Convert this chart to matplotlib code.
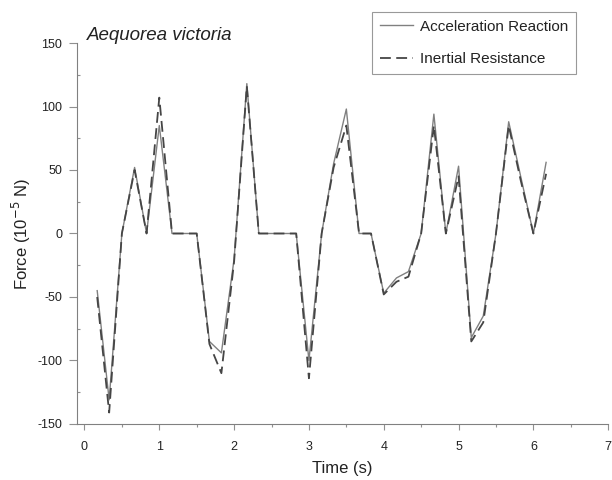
import matplotlib
matplotlib.use("Agg")
import matplotlib.pyplot as plt
from matplotlib.ticker import MultipleLocator

# valores (tiempo en s, fuerza en 1e-5 N)
time_s = [0.17, 0.33, 0.50, 0.67, 0.83, 1.00, 1.17, 1.33, 1.50, 1.67,
          1.83, 2.00, 2.17, 2.33, 2.50, 2.67, 2.83, 3.00, 3.17, 3.33,
          3.50, 3.67, 3.83, 4.00, 4.17, 4.33, 4.50, 4.67, 4.83, 5.00,
          5.17, 5.33, 5.50, 5.67, 5.83, 6.00, 6.17]

accel_reaction = [-45, -131, 0, 52, 0, 85, 0, 0, 0, -85,
                  -94, -20, 118, 0, 0, 0, 0, -100, 0, 55,
                  98, 0, 0, -47, -35, -30, 0, 94, 0, 53,
                  -82, -65, 0, 88, 45, 0, 56]

inertial_resist = [-50, -141, 0, 50, 0, 107, 0, 0, 0, -87,
                   -110, -22, 116, 0, 0, 0, 0, -114, 0, 52,
                   85, 0, 0, -48, -38, -34, 0, 85, 0, 45,
                   -85, -70, 0, 85, 42, 0, 47]

plt.rcParams["font.family"] = ["Liberation Sans", "DejaVu Sans"]
plt.rcParams["axes.unicode_minus"] = False

fig = plt.figure(figsize=(6.12, 4.8), dpi=100)
ax = fig.add_axes([0.1258, 0.1167, 0.868, 0.7937])

ax.plot(time_s, accel_reaction, color="#808080", linewidth=1.0,
        label="Acceleration Reaction")
ax.plot(time_s, inertial_resist, color="#454545", linewidth=1.3,
        linestyle=(0, (6, 3)), label="Inertial Resistance")

ax.set_xlim(-0.1, 7.0)
ax.set_ylim(-150, 150)
ax.xaxis.set_major_locator(MultipleLocator(1))
ax.xaxis.set_minor_locator(MultipleLocator(0.5))
ax.yaxis.set_major_locator(MultipleLocator(50))
ax.yaxis.set_minor_locator(MultipleLocator(25))
ax.tick_params(which="both", colors="#909090", labelcolor="#222222",
               labelsize=9, width=0.8)
ax.tick_params(axis="x", which="major", direction="out", length=4, pad=8)
ax.tick_params(axis="x", which="minor", direction="out", length=2)
ax.tick_params(axis="y", which="major", direction="out", length=5.5, pad=5)
ax.tick_params(axis="y", which="minor", direction="in", length=2.5)

for side in ("top", "right"):
    ax.spines[side].set_visible(False)
for side in ("left", "bottom"):
    ax.spines[side].set_color("#808080")

ax.set_xlabel("Time (s)", fontsize=12, color="#222222", labelpad=6)
ax.set_ylabel("Force (10$^{-5}$ N)", fontsize=12, color="#222222", labelpad=3)

ax.text(0.019, 1.021, "Aequorea victoria", transform=ax.transAxes,
        fontsize=13.5, style="italic", va="center", ha="left", color="#222222")

leg = ax.legend(loc="upper right", bbox_to_anchor=(0.94, 1.081),
                fontsize=11, frameon=True, fancybox=False, handlelength=2.15,
                handletextpad=0.5, labelspacing=1.2, borderpad=0.5,
                borderaxespad=0)
leg.get_frame().set_edgecolor("#808080")
leg.get_frame().set_linewidth(0.8)
for txt in leg.get_texts():
    txt.set_color("#222222")

fig.savefig("out.png", dpi=100)
